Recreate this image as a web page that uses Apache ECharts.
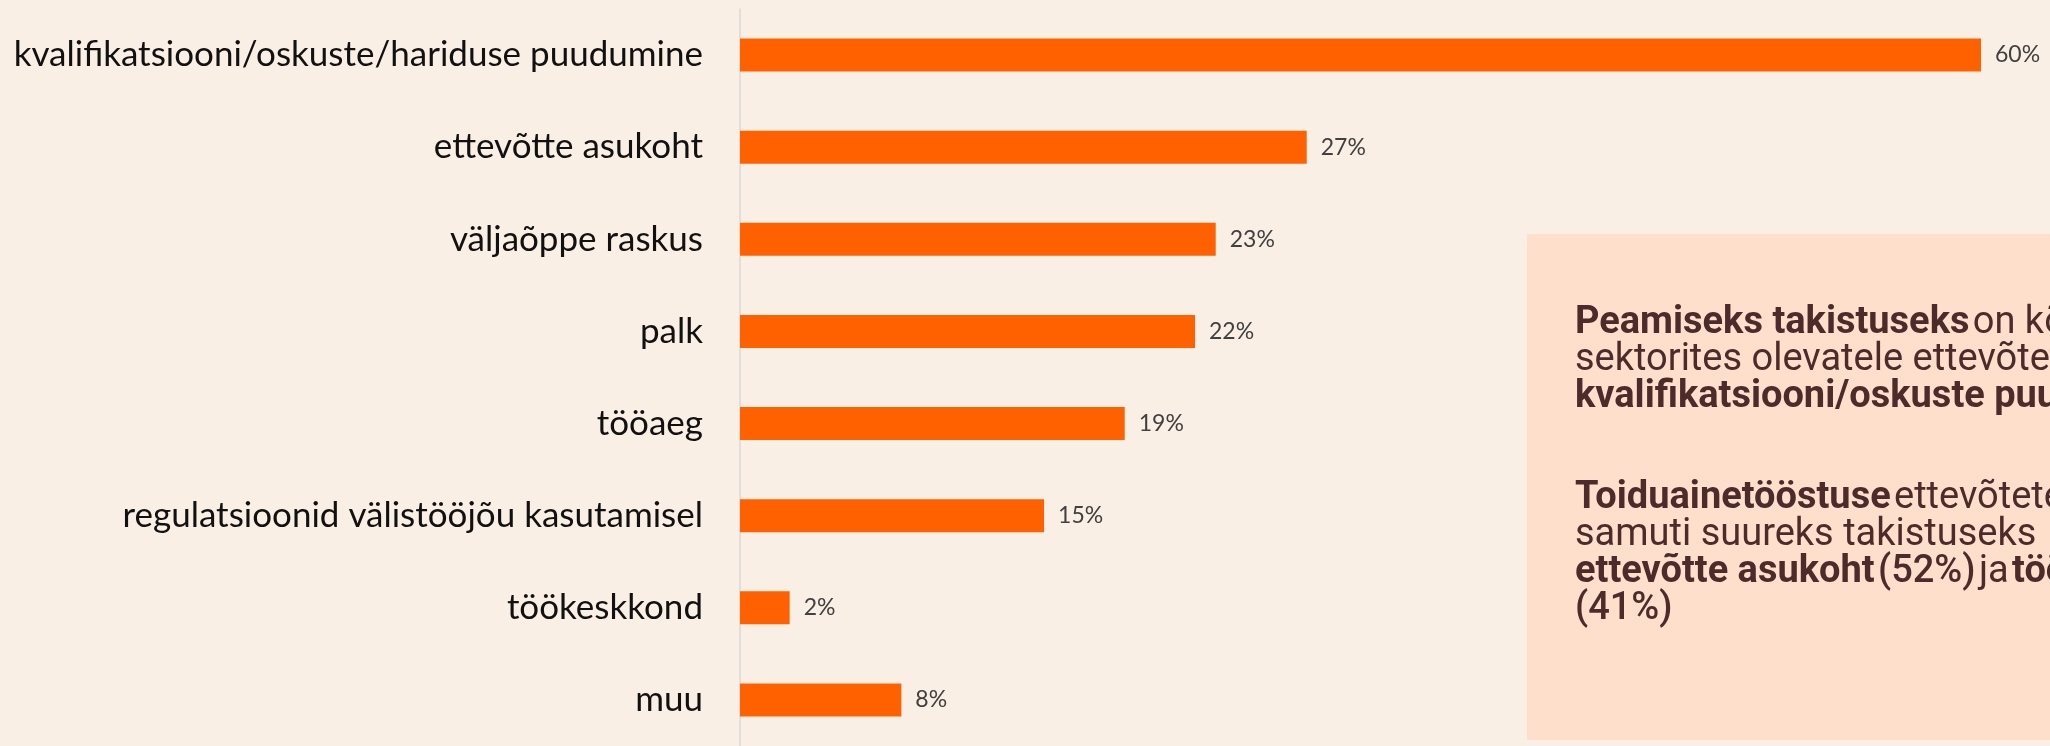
<!DOCTYPE html>
<html>
<head>
<meta charset="utf-8">
<script src="https://cdn.jsdelivr.net/npm/echarts@6/dist/echarts.min.js"></script>
<style>
  html, body { margin: 0; padding: 0; background: #faefe4; }
  #chart { width: 2050px; height: 746px; }
</style>
</head>
<body>
<div id="chart"></div>
<script>
// kategooriad ja väärtused (%)
const categories = [
  'kvalifikatsiooni/oskuste/hariduse puudumine',
  'ettevõtte asukoht',
  'väljaõppe raskus',
  'palk',
  'tööaeg',
  'regulatsioonid välistööjõu kasutamisel',
  'töökeskkond',
  'muu'
];
const values = [60, 27.4, 23, 22, 18.6, 14.7, 2.4, 7.8];

const chart = echarts.init(document.getElementById('chart'));

const txt = {
  b: { fontFamily: 'Roboto', fontWeight: 'bold', fontSize: 38, lineHeight: 37, fill: '#4e2b2b' },
  m: { fontFamily: 'Roboto', fontWeight: 500, fontSize: 38, lineHeight: 37, fill: '#4e2b2b' },
  n: { fontFamily: 'Roboto', fontWeight: 'normal', fontSize: 38, lineHeight: 37, fill: '#4e2b2b' }
};

chart.setOption({
  backgroundColor: '#faefe4',
  animation: false,
  grid: { left: 740, top: 9, width: 1241, height: 742 },
  xAxis: {
    type: 'value',
    min: 0,
    max: 60,
    show: false
  },
  yAxis: {
    type: 'category',
    inverse: true,
    data: categories,
    axisLine: { show: true, lineStyle: { color: '#d9d9d9', width: 1.5 } },
    axisTick: { show: false },
    axisLabel: {
      margin: 37,
      fontFamily: 'Lato',
      fontSize: 35,
      color: '#111'
    }
  },
  series: [{
    type: 'bar',
    data: values,
    barWidth: 33,
    itemStyle: { color: '#ff6000' },
    label: {
      show: true,
      position: 'right',
      distance: 14,
      fontFamily: 'Lato',
      fontSize: 23,
      color: '#404040',
      formatter: p => Math.round(p.value) + '%'
    }
  }],
  graphic: [
    {
      type: 'rect',
      left: 1527, top: 234,
      shape: { width: 600, height: 506 },
      style: { fill: '#fddfcb' }
    },
    {
      type: 'text',
      left: 1575, top: 304,
      style: {
        text: '{b|Peamiseks takistuseks} {n|on kõigis}\n{n|sektorites olevatele ettevõtetele}\n{b|kvalifikatsiooni/oskuste puudumine}',
        rich: txt
      }
    },
    {
      type: 'text',
      left: 1575, top: 479,
      style: {
        text: '{b|Toiduainetööstuse} {n|ettevõtetel on}\n{n|samuti suureks takistuseks}\n{b|ettevõtte asukoht} {m|(52%)} {n|ja} {b|tööaeg}\n{m|(41%)}',
        rich: txt
      }
    }
  ]
});
</script>
</body>
</html>
